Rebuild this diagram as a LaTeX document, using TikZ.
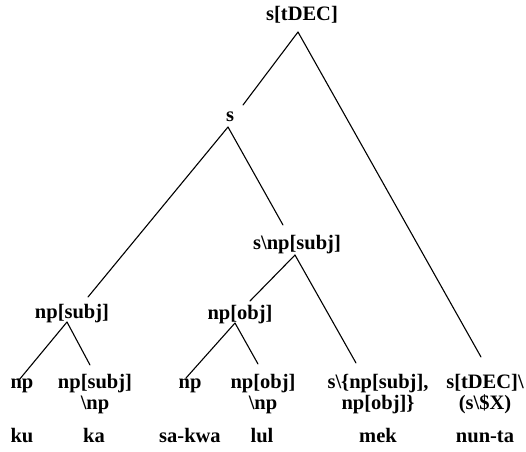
\documentclass[tikz,border=0pt]{standalone}
\usepackage{fontspec}
\setmainfont{Liberation Serif}
\begin{document}
\begin{tikzpicture}[x=1pt,y=-1pt,
  lab/.style={inner sep=0pt,outer sep=0pt,anchor=base,font=\fontsize{20.5}{21}\selectfont\bfseries,align=center},
  edge/.style={line width=1.1pt,line cap=round}]
\useasboundingbox (0,0) rectangle (526,451);
% categories
\node[lab] (top) at (302,20) {s[tDEC]};
\node[lab] (s) at (230,121) {s};
\node[lab] (snp) at (297,249) {s\textbackslash np[subj]};
\node[lab] (npsubj) at (72,318) {np[subj]};
\node[lab] (npobj) at (240,319) {np[obj]};
\node[lab] (np1) at (22,388) {np};
\node[lab] (npsubjnp) at (95,409) {np[subj]\\\textbackslash np};
\node[lab] (np2) at (190,388) {np};
\node[lab] (npobjnp) at (263,409) {np[obj]\\\textbackslash np};
\node[lab] (verb) at (378,409) {s\textbackslash\textbraceleft np[subj],\\np[obj]\textbraceright};
\node[lab] (fin) at (485,409) {s[tDEC]\textbackslash\\(s\textbackslash\$X)};
% words
\node[lab] (w1) at (22,442) {ku};
\node[lab] (w2) at (94,442) {ka};
\node[lab] (w3) at (190,442) {sa-kwa};
\node[lab] (w4) at (262,442) {lul};
\node[lab] (w5) at (378,442) {mek};
\node[lab] (w6) at (485,442) {nun-ta};
% connectors
\draw[edge] ([shift={(-4,12)}]top.base) -- ([shift={(13,-16)}]s.base);
\draw[edge] ([shift={(-4,12)}]top.base) -- ([shift={(-4,-52)}]fin.base);
\draw[edge] ([shift={(-2,6)}]s.base) -- ([shift={(16,-21)}]npsubj.base);
\draw[edge] ([shift={(-2,6)}]s.base) -- ([shift={(-14,-24)}]snp.base);
\draw[edge] ([shift={(-2,6)}]snp.base) -- ([shift={(10,-18)}]npobj.base);
\draw[edge] ([shift={(-2,6)}]snp.base) -- ([shift={(-22,-46)}]verb.base);
\draw[edge] ([shift={(-5,4)}]npsubj.base) -- ([shift={(-3,-8)}]np1.base);
\draw[edge] ([shift={(-5,4)}]npsubj.base) -- ([shift={(-5,-44)}]npsubjnp.base);
\draw[edge] ([shift={(-5,4)}]npobj.base) -- ([shift={(-4,-10)}]np2.base);
\draw[edge] ([shift={(-5,4)}]npobj.base) -- ([shift={(-5,-45)}]npobjnp.base);
\end{tikzpicture}
\end{document}
